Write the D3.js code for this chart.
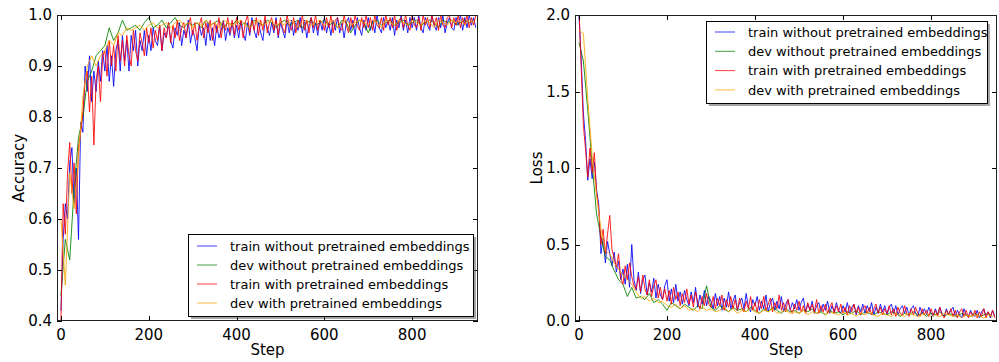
<!DOCTYPE html>
<html>
<head>
<meta charset="utf-8">
<script src="https://cdn.jsdelivr.net/npm/d3@7"></script>
<style>
  body { margin: 0; background: #fff; }
  text { font-family: "DejaVu Sans", sans-serif; fill: #000; }
</style>
</head>
<body>
<svg id="chart" width="999" height="362"></svg>
<script>
// ---- labels ----
const seriesNames = [
  "train without pretrained embeddings",
  "dev without pretrained embeddings",
  "train with pretrained embeddings",
  "dev with pretrained embeddings"
];
const seriesColors = ["#0000ff", "#008000", "#ff0000", "#ffa500"];
const stepTicks = [0, 200, 400, 600, 800];
const accuracyTicks = [0.4, 0.5, 0.6, 0.7, 0.8, 0.9, 1.0];
const lossTicks = [0.0, 0.5, 1.0, 1.5, 2.0];

// train metrics are logged every 5 steps, dev metrics every 10 steps
const trainEvery = 5;
const devEvery = 10;

// ---- accuracy ----
const accTrainWithout = [
  .42,.56,.63,.60,.71,.74,.63,.70,.56,.79,
  .77,.90,.85,.92,.83,.89,.85,.91,.87,.93,
  .89,.94,.87,.92,.86,.93,.95,.89,.96,.91,
  .95,.89,.96,.93,.97,.90,.95,.93,.97,.92,
  .96,.93,.975,.95,.94,.98,.93,.965,.955,.985,
  .95,.935,.975,.96,.985,.94,.97,.955,.99,.945,
  .97,.955,.93,.98,.96,.975,.94,.985,.95,.975,
  .94,.98,.955,.97,.99,.95,.975,.96,.985,.955,
  .98,.955,.99,.965,.95,.985,.96,.995,.97,.955,
  .985,.965,.95,.99,.975,.96,.985,.965,.995,.955,
  .985,.97,.955,.99,.965,.99,.96,.985,.97,.995,
  .965,.99,.955,.98,.995,.965,.985,.96,.99,.97,
  .995,.965,.985,.96,.99,.97,.995,.965,.985,.955,
  .985,.995,.97,.99,.96,.995,.975,.96,.99,.97,
  .995,.97,.99,.965,1.0,.975,.965,.995,.975,.99,
  .97,.995,.96,.99,.975,1.0,.97,.99,.965,.995,
  .975,.995,.97,1.0,.975,.965,.995,.98,.97,1.0,
  .98,.97,.995,.975,1.0,.965,.985,.995,.975,.97,
  .995,.98,1.0,.97,.995,.975,1.0,.98,.995,.975
];
const accDevWithout = [
  .45,.56,.52,.66,.76,.80,.87,.89,.92,.93,
  .94,.975,.95,.965,.99,.97,.975,.98,.97,.985,
  .995,.975,.98,.99,.975,.985,.995,.98,.975,.985,
  .98,.985,.975,.99,.98,.985,.99,.975,.985,.98,
  .99,.98,.985,.975,.99,.985,.98,.99,.985,.975,
  .985,.99,.98,.985,.99,.975,.985,.99,.98,.985,
  .99,.98,.985,.975,.99,.985,.965,.98,.99,.985,
  .965,.985,.99,.98,.985,.99,.98,.985,.99,.98,
  .985,.99,.98,.985,.99,.985,.975,.99,.985,.99,
  .98,.985,.99,.985,.99
];
const accTrainWith = [
  .40,.63,.57,.69,.75,.65,.71,.61,.74,.77,
  .81,.87,.89,.81,.88,.745,.87,.90,.83,.92,
  .93,.88,.95,.90,.94,.89,.96,.91,.95,.90,
  .96,.92,.90,.97,.93,.91,.965,.945,.92,.975,
  .945,.975,.935,.97,.95,.98,.93,.975,.955,.985,
  .945,.98,.955,.99,.95,.975,.985,.955,.98,.995,
  .96,.985,.95,.98,.995,.955,.985,.965,.99,.95,
  .985,.965,.995,.955,.985,.97,.995,.965,.99,.96,
  .995,.97,.99,.955,.985,1.0,.965,.99,.97,.995,
  .96,.99,.97,1.0,.965,.985,.995,.97,.99,.96,
  .995,.975,.965,1.0,.98,.97,.995,.965,.99,.975,
  1.0,.97,.99,.965,.995,.975,1.0,.97,.99,.985,
  .97,.995,.975,1.0,.965,.99,.995,.975,.97,1.0,
  .98,.965,.995,.975,1.0,.98,.97,.995,.975,1.0,
  .975,.995,.97,1.0,.98,.975,.995,.97,1.0,.98,
  .995,.975,1.0,.97,.99,.995,.975,1.0,.98,.97,
  1.0,.98,.975,.995,.97,1.0,.98,.995,.975,1.0,
  .98,.995,.97,1.0,.98,.975,.995,1.0,.975,.995,
  .98,1.0,.975,.995,.98,1.0,.975,.995,.98,1.0
];
const accDevWith = [
  .60,.47,.69,.62,.72,.84,.90,.92,.90,.92,
  .93,.95,.94,.965,.96,.975,.97,.975,.98,.97,
  .98,.985,.975,.98,.985,.975,.985,.99,.98,.985,
  .975,.985,.98,.99,.98,.985,.975,.99,.985,.98,
  .985,.99,.98,.975,.985,.99,.98,.985,.99,.98,
  .985,.98,.99,.985,.975,.985,.99,.98,.985,.99,
  .98,.985,.99,.975,.985,.99,.98,.985,.99,.985,
  .98,.99,.985,.975,.99,.985,.98,.99,.985,.98,
  .99,.985,.98,.99,.985,.975,.99,.985,.98,.99,
  .985,.99,.98,.99,.985
];

// ---- loss ----
const lossTrainWithout = [
  2.00,1.72,1.36,1.18,0.92,1.06,0.93,1.04,0.86,0.76,
  0.44,0.54,0.38,0.52,0.44,0.36,0.45,0.32,0.39,0.27,
  0.34,0.24,0.37,0.22,0.50,0.27,0.20,0.32,0.18,0.27,
  0.30,0.17,0.25,0.19,0.28,0.15,0.24,0.17,0.14,0.23,
  0.27,0.13,0.21,0.12,0.24,0.13,0.19,0.11,0.20,0.14,
  0.10,0.19,0.12,0.22,0.09,0.17,0.11,0.20,0.10,0.16,
  0.13,0.08,0.18,0.10,0.16,0.07,0.15,0.09,0.19,0.08,
  0.13,0.17,0.07,0.12,0.15,0.08,0.18,0.09,0.06,0.14,
  0.10,0.16,0.07,0.13,0.08,0.17,0.06,0.12,0.15,0.07,
  0.13,0.08,0.16,0.06,0.11,0.14,0.07,0.12,0.08,0.14,
  0.07,0.12,0.15,0.06,0.11,0.07,0.13,0.05,0.10,0.12,
  0.06,0.11,0.07,0.13,0.05,0.10,0.06,0.12,0.07,0.05,
  0.10,0.06,0.12,0.05,0.09,0.11,0.04,0.10,0.06,0.11,
  0.05,0.10,0.06,0.12,0.04,0.09,0.05,0.11,0.06,0.10,
  0.04,0.09,0.11,0.05,0.10,0.04,0.08,0.10,0.05,0.09,
  0.04,0.08,0.10,0.05,0.03,0.09,0.05,0.08,0.04,0.09,
  0.05,0.03,0.08,0.04,0.09,0.05,0.03,0.08,0.04,0.07,
  0.09,0.03,0.07,0.04,0.02,0.08,0.04,0.03,0.07,0.04,
  0.03,0.07,0.02,0.06,0.08,0.03,0.06,0.02,0.07,0.03
];
const lossDevWithout = [
  1.82,1.70,1.38,1.02,0.70,0.55,0.42,0.40,0.33,0.27,
  0.24,0.16,0.22,0.15,0.16,0.14,0.18,0.12,0.14,0.11,
  0.07,0.12,0.10,0.08,0.11,0.09,0.07,0.10,0.08,0.23,
  0.09,0.07,0.10,0.08,0.06,0.09,0.07,0.08,0.06,0.09,
  0.07,0.05,0.08,0.06,0.09,0.07,0.05,0.08,0.06,0.07,
  0.05,0.07,0.06,0.08,0.05,0.06,0.04,0.07,0.05,0.06,
  0.04,0.06,0.05,0.07,0.04,0.06,0.05,0.04,0.06,0.05,
  0.04,0.06,0.05,0.03,0.05,0.04,0.06,0.04,0.05,0.03,
  0.05,0.04,0.06,0.03,0.05,0.04,0.03,0.05,0.04,0.03,
  0.05,0.03,0.04,0.05,0.03
];
const lossTrainWith = [
  2.05,1.66,1.28,1.12,0.94,1.13,0.97,1.10,0.84,0.73,
  0.50,0.60,0.44,0.57,0.69,0.47,0.41,0.35,0.44,0.28,
  0.24,0.36,0.27,0.38,0.29,0.23,0.21,0.29,0.19,0.30,
  0.21,0.17,0.27,0.16,0.23,0.27,0.15,0.22,0.14,0.21,
  0.13,0.20,0.11,0.22,0.14,0.19,0.10,0.18,0.12,0.21,
  0.11,0.17,0.09,0.19,0.12,0.08,0.16,0.10,0.18,0.11,
  0.09,0.16,0.08,0.15,0.10,0.17,0.07,0.14,0.09,0.16,
  0.08,0.14,0.07,0.15,0.09,0.06,0.13,0.08,0.16,0.07,
  0.12,0.06,0.14,0.08,0.16,0.07,0.11,0.15,0.06,0.12,
  0.08,0.17,0.07,0.12,0.06,0.14,0.08,0.05,0.11,0.07,
  0.13,0.06,0.10,0.05,0.12,0.07,0.11,0.06,0.14,0.05,
  0.10,0.06,0.11,0.05,0.09,0.12,0.05,0.10,0.06,0.11,
  0.05,0.09,0.04,0.10,0.06,0.11,0.05,0.09,0.04,0.08,
  0.10,0.05,0.09,0.04,0.08,0.11,0.05,0.09,0.04,0.08,
  0.05,0.10,0.04,0.08,0.03,0.09,0.05,0.04,0.10,0.05,
  0.03,0.08,0.04,0.09,0.05,0.03,0.08,0.04,0.07,0.03,
  0.08,0.04,0.07,0.03,0.09,0.04,0.02,0.07,0.04,0.08,
  0.03,0.07,0.02,0.06,0.08,0.03,0.07,0.02,0.06,0.03,
  0.07,0.02,0.06,0.03,0.08,0.02,0.06,0.03,0.07,0.02
];
const lossDevWith = [
  1.90,1.88,1.45,1.08,0.82,0.60,0.46,0.44,0.38,0.34,
  0.30,0.27,0.24,0.19,0.15,0.16,0.13,0.15,0.12,0.13,
  0.10,0.09,0.11,0.08,0.10,0.07,0.08,0.06,0.09,0.07,
  0.08,0.06,0.07,0.09,0.06,0.08,0.05,0.07,0.06,0.08,
  0.06,0.05,0.07,0.06,0.08,0.05,0.06,0.07,0.05,0.06,
  0.05,0.07,0.04,0.06,0.05,0.07,0.04,0.06,0.05,0.04,
  0.06,0.04,0.05,0.03,0.05,0.04,0.06,0.04,0.03,0.05,
  0.04,0.03,0.05,0.04,0.03,0.05,0.04,0.03,0.04,0.05,
  0.03,0.04,0.03,0.05,0.04,0.03,0.04,0.02,0.04,0.03,
  0.04,0.03,0.02,0.04,0.03
];

const svg = d3.select("#chart");
const fmt = d3.format(".1f");

function drawPanel(opts) {
  const { id, left, right, top, bottom, yDomain, yTicks, yLabel, yLabelX, series, legend } = opts;
  const x = d3.scaleLinear().domain([-9, 950]).range([left, right]);
  const y = d3.scaleLinear().domain(yDomain).range([bottom, top]);
  const g = svg.append("g");

  g.append("clipPath").attr("id", "clip-" + id)
    .append("rect").attr("x", left).attr("y", top)
    .attr("width", right - left).attr("height", bottom - top);

  const line = d3.line().x(d => x(d[0])).y(d => y(d[1]));
  const plot = g.append("g").attr("clip-path", `url(#clip-${id})`);
  series.forEach((s, i) => {
    const pts = s.values.map((v, k) => [k * s.every, v]);
    plot.append("path").datum(pts)
      .attr("d", line)
      .attr("fill", "none")
      .attr("stroke", seriesColors[i])
      .attr("stroke-opacity", 0.85)
      .attr("stroke-width", 1);
  });

  // ticks on all four sides, pointing inward
  const tickLen = 5;
  const ax = g.append("g");
  stepTicks.forEach(t => {
    const px = Math.round(x(t)) + 0.5;
    ax.append("line").attr("x1", px).attr("x2", px).attr("y1", bottom).attr("y2", bottom - tickLen).attr("stroke", "#000");
    ax.append("line").attr("x1", px).attr("x2", px).attr("y1", top).attr("y2", top + tickLen).attr("stroke", "#000");
    ax.append("text").attr("x", x(t)).attr("y", bottom + 19)
      .attr("text-anchor", "middle").attr("font-size", 15).text(t);
  });
  yTicks.forEach(t => {
    const py = Math.round(y(t)) + 0.5;
    ax.append("line").attr("x1", left).attr("x2", left + tickLen).attr("y1", py).attr("y2", py).attr("stroke", "#000");
    ax.append("line").attr("x1", right).attr("x2", right - tickLen).attr("y1", py).attr("y2", py).attr("stroke", "#000");
    ax.append("text").attr("x", left - 5).attr("y", y(t)).attr("dy", "0.36em")
      .attr("text-anchor", "end").attr("font-size", 15).text(fmt(t));
  });

  g.append("rect").attr("x", left + 0.5).attr("y", top + 0.5)
    .attr("width", right - left - 1).attr("height", bottom - top - 1)
    .attr("fill", "none").attr("stroke", "#222").attr("stroke-width", 1);

  g.append("text").attr("x", (left + right) / 2).attr("y", bottom + 34)
    .attr("text-anchor", "middle").attr("font-size", 15).text("Step");
  g.append("text")
    .attr("transform", `translate(${yLabelX},${(top + bottom) / 2}) rotate(-90)`)
    .attr("text-anchor", "middle").attr("font-size", 15).text(yLabel);

  // legend with drop shadow
  const L = legend;
  const lg = g.append("g");
  lg.append("rect").attr("x", L.x + 3).attr("y", L.y + 3).attr("width", L.w).attr("height", L.h)
    .attr("fill", "#4d4d4d").attr("fill-opacity", 0.5);
  lg.append("rect").attr("x", L.x + 0.5).attr("y", L.y + 0.5).attr("width", L.w).attr("height", L.h)
    .attr("fill", "#fff").attr("stroke", "#000").attr("stroke-width", 1);
  seriesNames.forEach((name, i) => {
    const cy = L.y + L.first + i * L.gap;
    lg.append("line").attr("x1", L.x + 9).attr("x2", L.x + 29).attr("y1", cy).attr("y2", cy)
      .attr("stroke", seriesColors[i]).attr("stroke-opacity", 0.75);
    lg.append("text").attr("x", L.x + 42).attr("y", cy).attr("dy", "0.36em")
      .attr("font-size", 13).attr("fill", "#111").text(name);
  });
}

drawPanel({
  id: "acc", left: 57, right: 478, top: 15, bottom: 321,
  yDomain: [0.4, 1.0], yTicks: accuracyTicks, yLabel: "Accuracy", yLabelX: 24,
  series: [
    { values: accTrainWithout, every: trainEvery },
    { values: accDevWithout, every: devEvery },
    { values: accTrainWith, every: trainEvery },
    { values: accDevWith, every: devEvery }
  ],
  legend: { x: 188, y: 234, w: 285, h: 82, first: 12, gap: 19 }
});

drawPanel({
  id: "loss", left: 575, right: 997, top: 15, bottom: 321,
  yDomain: [0, 2], yTicks: lossTicks, yLabel: "Loss", yLabelX: 542,
  series: [
    { values: lossTrainWithout, every: trainEvery },
    { values: lossDevWithout, every: devEvery },
    { values: lossTrainWith, every: trainEvery },
    { values: lossDevWith, every: devEvery }
  ],
  legend: { x: 706, y: 21, w: 281, h: 82, first: 11, gap: 19.3 }
});
</script>
</body>
</html>
